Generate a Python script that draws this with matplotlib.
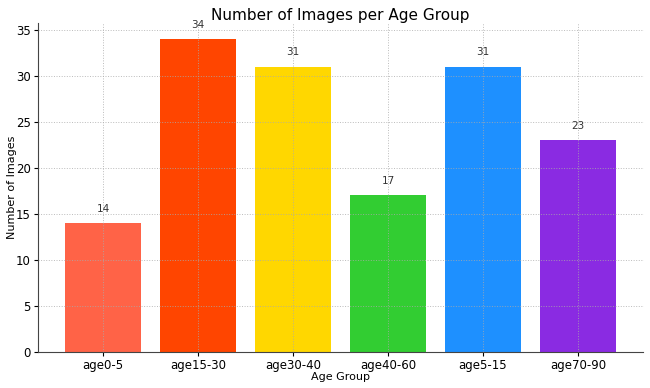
import matplotlib.pyplot as plt

age_groups = ["age0-5", "age15-30", "age30-40", "age40-60", "age5-15", "age70-90"]
counts = [14, 34, 31, 17, 31, 23]
colors = ["tomato", "orangered", "gold", "limegreen", "dodgerblue", "blueviolet"]

fig, ax = plt.subplots(figsize=(6.5, 3.88), dpi=100)
fig.subplots_adjust(left=0.058, right=0.99, top=0.94, bottom=0.093)

bars = ax.bar(age_groups, counts, color=colors, width=0.8)
for i, v in enumerate(counts):
    ax.text(i, v + 1, str(v), ha="center", va="bottom", fontsize=7.5, color="#333333")

ax.set_title("Number of Images per Age Group", fontsize=11, pad=2)
ax.set_xlabel("Age Group", fontsize=8, labelpad=0)
ax.set_ylabel("Number of Images", fontsize=8)
ax.yaxis.set_label_coords(-0.034, 0.5)
ax.tick_params(labelsize=8.5, length=3, pad=2)

ax.grid(True, linestyle=":", linewidth=0.7, color="#aaaaaa", alpha=0.8)
ax.spines["top"].set_visible(False)
ax.spines["right"].set_visible(False)
ax.spines["left"].set_color("#444444")
ax.spines["bottom"].set_color("#444444")

fig.savefig("out.png")
